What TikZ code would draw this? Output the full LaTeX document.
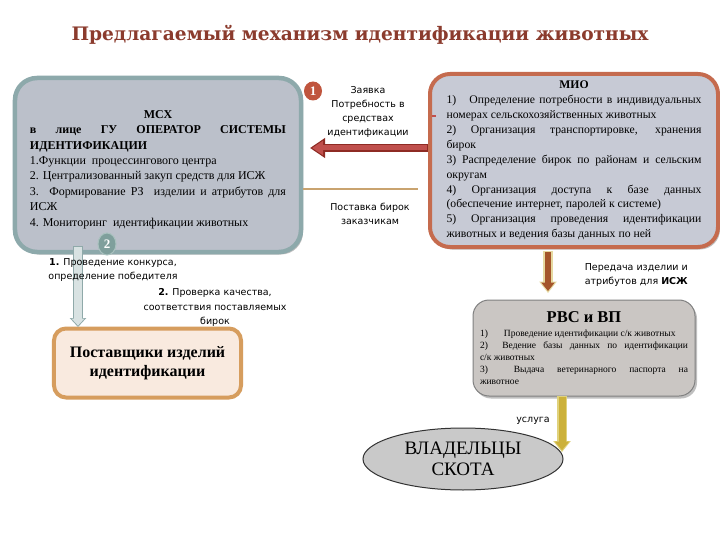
\documentclass[tikz,border=0pt]{standalone}
\usepackage{fontspec}
\setmainfont{Liberation Serif}
\newfontfamily\lblfont{DejaVu Sans}
\newfontfamily\ttlfont{DejaVu Serif}
\usetikzlibrary{arrows.meta,shadows,shapes.geometric}
\definecolor{ttlc}{HTML}{8B3B2D}
\definecolor{msxfill}{HTML}{BBC0CA}
\definecolor{msxborder}{HTML}{8DA9AB}
\definecolor{miofill}{HTML}{C7CAD5}
\definecolor{mioborder}{HTML}{C56B4E}
\definecolor{rvsfill}{HTML}{CAC6C3}
\definecolor{rvsborder}{HTML}{808080}
\definecolor{supfill}{HTML}{F9EADF}
\definecolor{supborder}{HTML}{D69D5E}
\definecolor{ownfill}{HTML}{C9C9C9}
\definecolor{cone}{HTML}{C0553E}
\definecolor{ctwo}{HTML}{7F9F9C}
\definecolor{ctwoline}{HTML}{A9C1BE}
\definecolor{redfill}{HTML}{C0504D}
\definecolor{redout}{HTML}{8E2B24}
\definecolor{orangeline}{HTML}{C9A36F}
\definecolor{brownfill}{HTML}{A4552B}
\definecolor{brownglow}{HTML}{E6D9A0}
\definecolor{yellowfill}{HTML}{CCB13A}
\definecolor{yellowglow}{HTML}{E0D27C}
\definecolor{lightfill}{HTML}{D8E2E2}
\definecolor{lightout}{HTML}{8FA9A9}
\begin{document}
\begin{tikzpicture}[x=1bp,y=-1bp,
  softshadow/.style={drop shadow={shadow xshift=2bp,shadow yshift=-2.5bp,fill=black,opacity=0.25}},
  msxbox/.style={draw=msxborder,line width=4.5bp,fill=msxfill,rounded corners=22bp,softshadow,inner sep=0pt},
  msxtext/.style={text width=256bp,align=justify,inner sep=0pt,font=\fontsize{12bp}{15.4bp}\selectfont},
  miobox/.style={draw=mioborder,line width=4bp,fill=miofill,rounded corners=20bp,softshadow,
     text width=255bp,align=justify,inner sep=0pt,font=\fontsize{11.7bp}{14.9bp}\selectfont},
  rvsbox/.style={draw=rvsborder,line width=1bp,fill=rvsfill,rounded corners=16bp,softshadow,
     text width=208bp,align=justify,inner sep=0pt},
  supbox/.style={draw=supborder,line width=4bp,fill=supfill,rounded corners=12bp,
     align=center,inner sep=0pt,font=\bfseries\fontsize{16bp}{19.5bp}\selectfont},
  numcirc/.style={ellipse,inner sep=0pt,text=white,font=\bfseries\fontsize{13bp}{13bp}\selectfont},
  lbl/.style={inner sep=0pt,font=\lblfont\fontsize{9.5bp}{14.3bp}\selectfont},
]
\useasboundingbox[fill=white] (0,0) rectangle (720,540);

% title
\node[text=ttlc,font=\ttlfont\bfseries\fontsize{18.6bp}{20bp}\selectfont] (title) at (360,35)
  {Предлагаемый механизм идентификации животных};

% main boxes
\node[msxbox,minimum width=286bp,minimum height=174bp] (msx) at (158,165) {};
\node[msxtext] (msxt) at (158,169.5)
 {{\centering\textbf{МСХ}\par}
  \textbf{в лице ГУ ОПЕРАТОР СИСТЕМЫ ИДЕНТИФИКАЦИИ}\par
  1.Функции\ \ процессингового центра\par
  2. Централизованный закуп средств для ИСЖ\par
  3.\ \ Формирование РЗ\ \ изделии и атрибутов для\linebreak ИСЖ\par
  4. Мониторинг\ \ идентификации животных};

\node[miobox,minimum width=288bp,minimum height=173bp] (mio) at (574,160.5)
 {{\centering\textbf{МИО}\par}
  1)\ \ \ Определение потребности в индивидуальных\linebreak номерах сельскохозяйственных животных\par
  2)\ Организация транспортировке, хранения\linebreak бирок\par
  3)\ Распределение бирок по районам и сельским\linebreak округам\par
  4)\ Организация доступа к базе данных\linebreak (обеспечение интернет, паролей к системе)\par
  5)\ Организация проведения идентификации\linebreak животных и ведения базы данных\ по ней};

\node[rvsbox,minimum width=222bp,minimum height=96bp] (rvs) at (584,348)
 {{\centering\fontsize{16.5bp}{18bp}\selectfont\bfseries РВС и ВП\par}\vspace{2bp}
  \fontsize{9.5bp}{11.8bp}\selectfont
  1)\hspace{16bp}Проведение идентификации с/к животных\par
  2)\ \ Ведение базы данных по идентификации\linebreak с/к животных\par
  3)\ \ Выдача ветеринарного паспорта на\linebreak животное};

\node[supbox,minimum width=187bp,minimum height=69bp] (sup) at (147.5,363)
 {Поставщики изделий\\идентификации};

\node[ellipse,draw=black!80,line width=1bp,fill=ownfill,minimum width=200bp,minimum height=62bp,
      inner sep=0pt,align=center,font=\fontsize{19bp}{21bp}\selectfont] (own) at (463,459)
 {ВЛАДЕЛЬЦЫ\\СКОТА};

% connectors
\coordinate (r1s) at (mio.west |- 0,148);
\coordinate (r1e) at (310,148);
\draw[line width=8bp,draw=redout,-{Triangle[width=19bp,length=15bp]}] (r1s) -- (r1e);
\draw[line width=5bp,draw=redfill,-{Triangle[width=14bp,length=11bp]},shorten >=2.2bp,shorten <=1.5bp] (r1s) -- (r1e);
\draw[redfill,line width=1.3bp] (432,116) -- (436,116);

\coordinate (sepend) at (418,189);
\draw[orangeline,line width=2bp] (msx.east |- sepend) -- (sepend);

\coordinate (l2s) at (78,246);
\coordinate (l2e) at (78,327);
\draw[line width=9.5bp,draw=lightout,-{Triangle[width=16bp,length=9bp]}] (l2s) -- (l2e);
\draw[line width=7.5bp,draw=lightfill,-{Triangle[width=12.5bp,length=7bp]},shorten >=1.4bp,shorten <=1bp] (l2s) -- (l2e);

\coordinate (b1s) at (548,251);
\coordinate (b1e) at (548,293);
\draw[line width=9.5bp,draw=brownglow,-{Triangle[width=17bp,length=11.5bp]}] (b1s) -- (b1e);
\draw[line width=6.5bp,draw=brownfill,-{Triangle[width=13bp,length=8.5bp]},shorten >=2bp,shorten <=1.5bp] (b1s) -- (b1e);

\coordinate (y1s) at (562,396);
\coordinate (y1e) at (562,452);
\draw[line width=10bp,draw=yellowglow,-{Triangle[width=17bp,length=11bp]}] (y1s) -- (y1e);
\draw[line width=7bp,draw=yellowfill,-{Triangle[width=13.5bp,length=8.5bp]},shorten >=1.8bp,shorten <=0.5bp] (y1s) -- (y1e);

% numbered circles
\node[numcirc,fill=cone,minimum width=18bp,minimum height=19bp] (n1) at (313,91) {1};
\node[numcirc,fill=ctwo,draw=ctwoline,line width=1bp,minimum width=18bp,minimum height=22bp] (n2) at (107,244) {2};

% labels
\node[lbl,align=center] (req) at (368,112) {Заявка\\Потребность в\\средствах\\идентификации};
\node[lbl,align=center] (deliv) at (370,214) {Поставка бирок\\заказчикам};
\node[lbl,align=center] (lab1) at (113,270) {\textbf{1.} Проведение конкурса,\\определение победителя};
\node[lbl,align=center] (lab2) at (215,307.5) {\textbf{2.} Проверка качества,\\соответствия поставляемых\\бирок};
\node[lbl,align=right,anchor=east] (trans) at (688,275) {Передача изделии и\\атрибутов для \textbf{ИСЖ}};
\node[lbl] (svc) at (533,421) {услуга};
\end{tikzpicture}
\end{document}
